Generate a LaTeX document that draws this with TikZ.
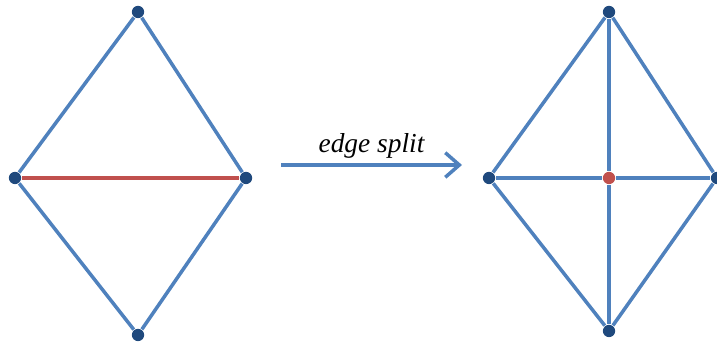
\documentclass[tikz,border=0pt]{standalone}
\usepackage{fontspec}
\setmainfont{Liberation Serif}
\usepackage{xcolor}
\usetikzlibrary{arrows.meta, backgrounds}
\definecolor{myblue}{RGB}{79, 129, 189}
\definecolor{mydark}{RGB}{31, 73, 125}
\definecolor{myred}{RGB}{192, 80, 77}

\begin{document}
\begin{tikzpicture}[scale=1,
  vert/.style={circle, fill=mydark, inner sep=0pt, minimum size=3.5pt},
  splitvert/.style={circle, fill=myred, inner sep=0pt, minimum size=3.5pt},
  edge/.style={color=myblue, line width=1pt},
  splitedge/.style={color=myred, line width=1pt}]
\useasboundingbox (0,0) rectangle (7.17,3.42);

% before
\node[vert] (T1) at (1.38,3.30) {};
\node[vert] (L1) at (0.15,1.64) {};
\node[vert] (R1) at (2.46,1.64) {};
\node[vert] (B1) at (1.38,0.07) {};

% after
\node[vert] (T2) at (6.09,3.30) {};
\node[vert] (L2) at (4.89,1.64) {};
\node[vert] (R2) at (7.17,1.64) {};
\node[vert] (B2) at (6.09,0.11) {};
\node[splitvert] (M2) at (6.09,1.64) {};

\begin{scope}[on background layer]
\draw[edge] (L1) -- (T1) -- (R1) -- (B1) -- (L1);
\draw[splitedge] (L1) -- (R1);
\draw[edge] (L2) -- (T2) -- (R2) -- (B2) -- (L2);
\draw[edge] (T2) -- (M2) -- (B2);
\draw[edge] (L2) -- (M2) -- (R2);
\end{scope}

\coordinate (A) at (2.81,1.77);
\coordinate (B) at (4.62,1.77);
\draw[-{Straight Barb[length=4pt, width=7pt]}, edge] (A) -- (B)
  node[midway, anchor=base, yshift=3.6pt, text=black]{\fontsize{7.8}{9}\selectfont\itshape edge split};

\end{tikzpicture}
\end{document}
